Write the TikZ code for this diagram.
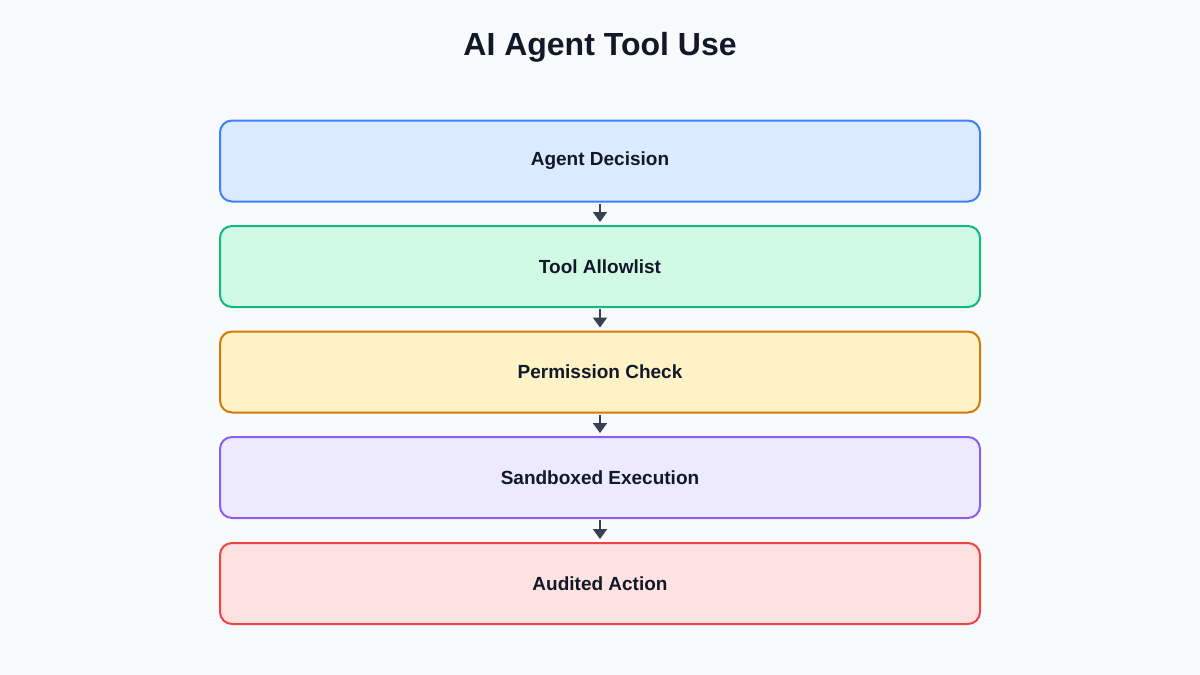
\documentclass[tikz,border=0pt]{standalone}
\usepackage{fontspec}
\setmainfont{Liberation Sans}
\usetikzlibrary{arrows.meta}
\definecolor{bg}{HTML}{F8FAFC}
\definecolor{txt}{HTML}{111827}
\definecolor{arr}{HTML}{374151}
\definecolor{bB}{HTML}{3B82F6}\definecolor{fB}{HTML}{DBEAFE}
\definecolor{bG}{HTML}{10B981}\definecolor{fG}{HTML}{D1FAE5}
\definecolor{bO}{HTML}{D97706}\definecolor{fO}{HTML}{FEF3C7}
\definecolor{bP}{HTML}{8B5CF6}\definecolor{fP}{HTML}{EDE9FE}
\definecolor{bR}{HTML}{EF4444}\definecolor{fR}{HTML}{FEE2E2}
\tikzset{
  stagebox/.style={draw, line width=2pt, rounded corners=12pt, minimum width=760pt, minimum height=81pt, inner sep=0pt, text=txt, font=\bfseries\fontsize{19}{23}\selectfont},
  flowarrow/.style={draw=arr, line width=2pt, -{Triangle[width=14pt,length=10pt]}, shorten >=3pt, shorten <=1pt},
}
\begin{document}
\begin{tikzpicture}[x=1pt,y=-1pt]
\fill[bg] (0,0) rectangle (1200,675);
\useasboundingbox (0,0) rectangle (1200,675);
\node[text=txt, font=\bfseries\fontsize{32}{38}\selectfont] (title) at (600,47) {AI Agent Tool Use};
\node[stagebox, draw=bB, fill=fB] (s1) at (600,161) {Agent Decision};
\node[stagebox, draw=bG, fill=fG] (s2) at (600,266.5) {Tool Allowlist};
\node[stagebox, draw=bO, fill=fO] (s3) at (600,372) {Permission Check};
\node[stagebox, draw=bP, fill=fP] (s4) at (600,477.5) {Sandboxed Execution};
\node[stagebox, draw=bR, fill=fR] (s5) at (600,583.5) {Audited Action};
\draw[flowarrow] (s1.south) -- (s2.north);
\draw[flowarrow] (s2.south) -- (s3.north);
\draw[flowarrow] (s3.south) -- (s4.north);
\draw[flowarrow] (s4.south) -- (s5.north);
\end{tikzpicture}
\end{document}
